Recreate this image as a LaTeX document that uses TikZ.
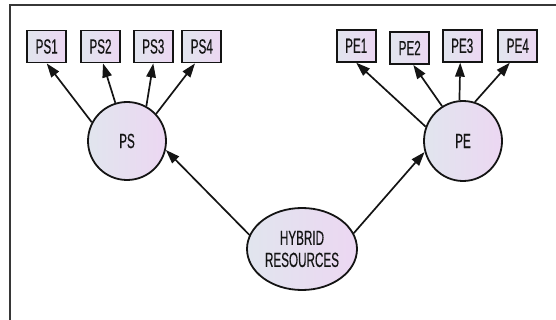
\documentclass[tikz,border=0pt]{standalone}
\usepackage{fontspec}
\newfontfamily\amosfont[FakeStretch=0.57,FakeBold=0.4]{Liberation Sans}
\usetikzlibrary{shapes.geometric,arrows.meta,calc}

\definecolor{fillL}{HTML}{E1E5EE}
\definecolor{fillR}{HTML}{ECD7F2}
\definecolor{ink}{HTML}{141414}

\tikzset{
  observed/.style={draw=ink, line width=1.8pt, rectangle, inner sep=0pt,
    minimum width=39pt, minimum height=32pt,
    left color=fillL, right color=fillR,
    font=\amosfont\fontsize{20.5}{22}\selectfont, text=ink},
  latent/.style={draw=ink, line width=1.8pt, ellipse, inner sep=0pt,
    left color=fillL, right color=fillR, align=center,
    font=\amosfont\fontsize{20.5}{22}\selectfont, text=ink},
  path/.style={draw=ink, line width=1.7pt,
    -{Triangle[length=14pt,width=9.5pt]}},
  frameline/.style={draw=ink!85, line width=2pt}
}

\begin{document}
\begin{tikzpicture}[x=1pt, y=-1pt]
  \useasboundingbox (0,0) rectangle (556,320);

  % frame of the panel
  \coordinate (fr-bl) at (10,320);
  \coordinate (fr-tl) at (10,5.5);
  \coordinate (fr-tr) at (556,5.5);
  \draw[frameline] (fr-bl) -- (fr-tl) -- (fr-tr);

  % indicator boxes
  \node[observed] (ps1) at (46.7,46.5) {PS1};
  \node[observed] (ps2) at (100.5,46.5) {PS2};
  \node[observed] (ps3) at (153.3,46.5) {PS3};
  \node[observed] (ps4) at (201.8,46.5) {PS4};

  \node[observed] (pe1) at (356.2,45.8) {PE1};
  \node[observed] (pe2) at (409.7,48) {PE2};
  \node[observed] (pe3) at (462.2,45.8) {PE3};
  \node[observed] (pe4) at (517.8,45.8) {PE4};

  % latent variables
  \node[latent, minimum width=78pt, minimum height=78pt] (ps) at (127,141) {PS};
  \node[latent, minimum width=78pt, minimum height=80pt] (pe) at (463,141) {PE};
  \node[latent, minimum width=110pt, minimum height=82pt] (hr) at (302,249)
       {HYBRID\\RESOURCES};

  % loadings of PS
  \draw[path] (ps.152) -- (ps1.south);
  \draw[path] (ps.107.7) -- ($(ps2.south)+(2.5,0)$);
  \draw[path] (ps.61.9) -- (ps3.south);
  \draw[path] (ps.43) -- ($(ps4.south)+(-6.8,0)$);

  % loadings of PE
  \draw[path] (pe.159) -- (pe1.south);
  \draw[path] (pe.121.6) -- ($(pe2.south)+(3.6,0)$);
  \draw[path] (pe.95.7) -- ($(pe3.south)+(-2,0)$);
  \draw[path] (pe.73) -- ($(pe4.south)+(-8,0)$);

  % structural paths
  \draw[path] (hr.165.2) -- (ps.-13.3);
  \draw[path] (hr.17.7) -- (pe.196.4);
\end{tikzpicture}
\end{document}
